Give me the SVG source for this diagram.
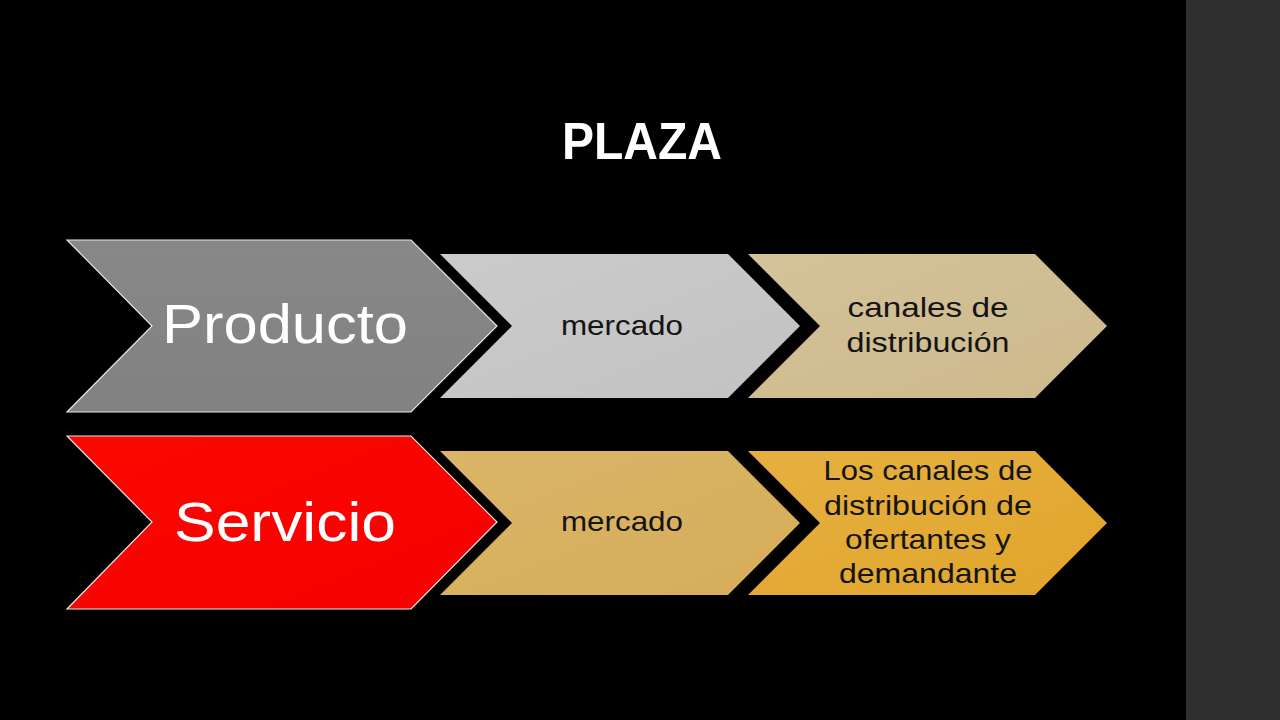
<svg xmlns="http://www.w3.org/2000/svg" width="1280" height="720" viewBox="0 0 1280 720">
  <defs>
    <style>
      .big { stroke: #e6e6e6; stroke-width: 1.2; }
      .t { font-family: "Liberation Sans", Arial, sans-serif; text-anchor: middle; }
      .title { font-weight: bold; font-size: 51px; fill: #ffffff; }
      .bigt { font-size: 56px; fill: #ffffff; }
      .smt { font-size: 28px; fill: #141414; }
    </style>
    <linearGradient id="gGray" x1="0" y1="0" x2="0" y2="1">
      <stop offset="0" stop-color="#888888"/>
      <stop offset="1" stop-color="#818181"/>
    </linearGradient>
    <linearGradient id="gLight" x1="0" y1="0" x2="1" y2="1">
      <stop offset="0" stop-color="#cbcbcb"/>
      <stop offset="1" stop-color="#c2c2c2"/>
    </linearGradient>
    <linearGradient id="gTan" x1="0" y1="0" x2="1" y2="1">
      <stop offset="0" stop-color="#d4c29a"/>
      <stop offset="1" stop-color="#cdb98b"/>
    </linearGradient>
    <linearGradient id="gRed" x1="0" y1="0" x2="1" y2="1">
      <stop offset="0" stop-color="#fa0800"/>
      <stop offset="1" stop-color="#f70000"/>
    </linearGradient>
    <linearGradient id="gGold1" x1="0" y1="0" x2="1" y2="1">
      <stop offset="0" stop-color="#dab567"/>
      <stop offset="1" stop-color="#d6ad5a"/>
    </linearGradient>
    <linearGradient id="gGold2" x1="0" y1="0" x2="1" y2="1">
      <stop offset="0" stop-color="#e6b041"/>
      <stop offset="1" stop-color="#e0a52a"/>
    </linearGradient>
  </defs>

  <rect x="0" y="0" width="1280" height="720" fill="#000000"/>
  <rect x="1186" y="0" width="94" height="720" fill="#2f2f2f"/>

  <text class="t title" x="642" y="159" textLength="160" lengthAdjust="spacingAndGlyphs">PLAZA</text>

  <g id="connectors"></g>

  <g id="producto">
    <polygon class="big" points="67,240 411,240 497,326 411,412 67,412 152,326" fill="url(#gGray)"/>
    <text class="t bigt" x="285" y="343" textLength="246" lengthAdjust="spacingAndGlyphs">Producto</text>
  </g>
  <g id="mercado1">
    <polygon points="440,254 728,254 800,326 728,398 440,398 512,326" fill="url(#gLight)"/>
    <text class="t smt" x="622" y="335" textLength="122" lengthAdjust="spacingAndGlyphs">mercado</text>
  </g>
  <g id="canales1">
    <polygon points="748,254 1035,254 1107,326 1035,398 748,398 820,326" fill="url(#gTan)"/>
    <text class="t smt" x="928" y="317" textLength="161" lengthAdjust="spacingAndGlyphs">canales de</text>
    <text class="t smt" x="928" y="352" textLength="163" lengthAdjust="spacingAndGlyphs">distribución</text>
  </g>

  <g id="servicio">
    <polygon class="big" points="67,436 411,436 497,522 411,609 67,609 152,522" fill="url(#gRed)"/>
    <text class="t bigt" x="285" y="541" textLength="222" lengthAdjust="spacingAndGlyphs">Servicio</text>
  </g>
  <g id="mercado2">
    <polygon points="440,451 728,451 800,523 728,595 440,595 512,523" fill="url(#gGold1)"/>
    <text class="t smt" x="622" y="531" textLength="122" lengthAdjust="spacingAndGlyphs">mercado</text>
  </g>
  <g id="canales2">
    <polygon points="748,451 1035,451 1107,523 1035,595 748,595 820,523" fill="url(#gGold2)"/>
    <text class="t smt" x="928" y="480" textLength="209" lengthAdjust="spacingAndGlyphs">Los canales de</text>
    <text class="t smt" x="928" y="515" textLength="208" lengthAdjust="spacingAndGlyphs">distribución de</text>
    <text class="t smt" x="928" y="549" textLength="166" lengthAdjust="spacingAndGlyphs">ofertantes y</text>
    <text class="t smt" x="928" y="583" textLength="178" lengthAdjust="spacingAndGlyphs">demandante</text>
  </g>
</svg>
